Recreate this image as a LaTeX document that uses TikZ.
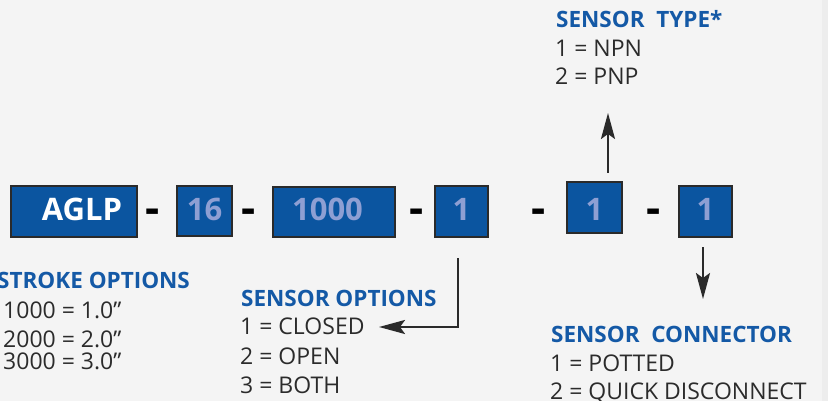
\documentclass[tikz,border=0pt]{standalone}
\usepackage{fontspec}
\setmainfont{Open Sans}
\usetikzlibrary{arrows.meta}
\definecolor{bg}{HTML}{F4F4F4}
\definecolor{edgestrip}{HTML}{EDEDED}
\definecolor{boxblue}{HTML}{0B55A0}
\definecolor{numblue}{HTML}{8E9FD3}
\definecolor{headblue}{HTML}{1459A6}
\definecolor{bodygray}{HTML}{2B2B2B}
\definecolor{linegray}{HTML}{2A2A2A}
\newcommand{\myfs}[1]{\fontsize{#1}{#1}\selectfont}
\tikzset{
  codebox/.style={draw=linegray, line width=1.2pt, fill=boxblue, inner sep=0pt,
    font=\myfs{31}\bfseries, text=numblue, text height=22pt, text depth=4pt},
  sepdash/.style={inner sep=0pt, font=\myfs{44}\bfseries, text=black, anchor=base},
  headtxt/.style={inner sep=0pt, anchor=base west, font=\myfs{22.5}\bfseries, text=headblue},
  bodytxt/.style={inner sep=0pt, anchor=base west, font=\myfs{23}, text=bodygray},
  pointer/.style={draw=linegray, line width=2.2pt, -{Stealth[length=26pt,width=14pt,inset=5pt]}}
}
\begin{document}
\begin{tikzpicture}[x=1pt,y=-1pt]
\useasboundingbox (0,0) rectangle (828,401);
\fill[bg] (0,0) rectangle (828,401);
\fill[edgestrip] (822,0) rectangle (828,401);

% code boxes
\node[codebox, minimum width=126pt, minimum height=51pt, text=white] (aglp) at (74,211.5) {\hspace*{16pt}AGLP};
\node[codebox, minimum width=55pt, minimum height=50pt] (stroke16) at (204.5,211) {16};
\node[codebox, minimum width=122pt, minimum height=50pt, line width=2pt] (len) at (334,212) {1000\hspace*{13pt}};
\node[codebox, minimum width=53pt, minimum height=51pt] (so) at (461.5,211.5) {1};
\node[codebox, minimum width=55pt, minimum height=51pt, text height=25pt, text depth=0pt] (st) at (594.5,207.5) {1};
\node[codebox, minimum width=53pt, minimum height=51pt] (sc) at (705.5,211.5) {1};

% separating dashes
\node[sepdash] (d1) at (152.5,224) {-};
\node[sepdash] (d2) at (248.5,224) {-};
\node[sepdash] (d3) at (417,224) {-};
\node[sepdash] (d4) at (538.5,224) {-};
\node[sepdash] (d5) at (653.5,224) {-};

% stroke options
\node[headtxt] (strokeh) at (-3,288) {STROKE OPTIONS};
\node[bodytxt] (s1) at (3,318) {1000 = 1.0”};
\node[bodytxt] (s2) at (3,347) {2000 = 2.0”};
\node[bodytxt] (s3) at (3,369) {3000 = 3.0”};

% sensor options
\node[headtxt] (soh) at (241,306) {SENSOR OPTIONS};
\node[bodytxt] (so1) at (240,334) {1 = CLOSED};
\node[bodytxt] (so2) at (240,364) {2 = OPEN};
\node[bodytxt] (so3) at (240,393) {3 = BOTH};

% sensor type
\node[headtxt] (sth) at (556,28) {SENSOR\ \ TYPE*};
\node[bodytxt] (st1) at (555,57) {1 = NPN};
\node[bodytxt] (st2) at (555,85) {2 = PNP};

% sensor connector
\node[headtxt] (sch) at (551,342) {SENSOR\ \ CONNECTOR};
\node[bodytxt] (sc1) at (550,371) {1 = POTTED};
\node[bodytxt] (sc2) at (550,399) {2 = QUICK DISCONNECT};

% connectors
\coordinate (soA) at (458,258);
\coordinate (soB) at (379,327);
\draw[pointer] (soA) |- (soB);
\coordinate (stA) at (608,173);
\coordinate (stB) at (608,113);
\draw[pointer] (stA) -- (stB);
\coordinate (scA) at (703,247);
\coordinate (scB) at (703,299);
\draw[pointer] (scA) -- (scB);
\end{tikzpicture}
\end{document}
